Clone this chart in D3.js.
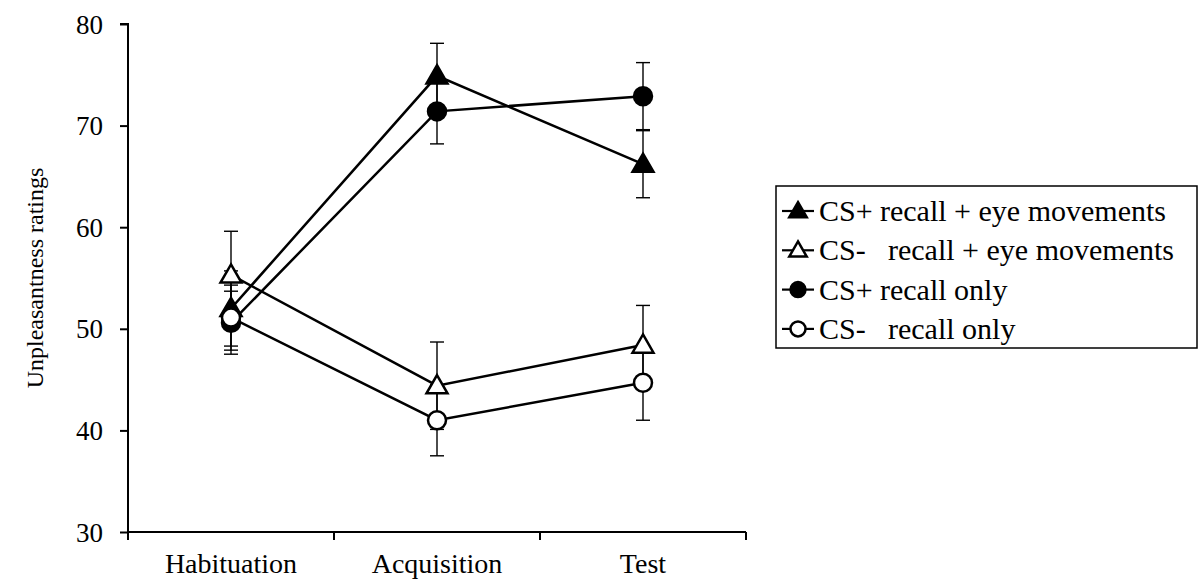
<!DOCTYPE html>
<html>
<head>
<meta charset="utf-8">
<script src="https://cdn.jsdelivr.net/npm/d3@7"></script>
<style>
  html, body { margin: 0; padding: 0; background: #fff; }
  svg { display: block; font-family: "Liberation Serif", "Times New Roman", serif; }
</style>
</head>
<body>
<svg id="chart" width="1198" height="579"></svg>
<script>
// Phases of the experiment
const phases = ["Habituation", "Acquisition", "Test"];
const yTicks = [30, 40, 50, 60, 70, 80];

// Mean unpleasantness ratings and standard errors per condition
const csPlusEyeMean = [52.0, 74.9, 66.2];
const csPlusEyeSE = [3.7, 3.2, 3.3];
const csMinusEyeMean = [55.3, 44.4, 48.4];
const csMinusEyeSE = [4.3, 4.3, 3.9];
const csPlusRecallMean = [50.6, 71.4, 72.9];
const csPlusRecallSE = [3.1, 3.2, 3.3];
const csMinusRecallMean = [51.1, 41.0, 44.7];
const csMinusRecallSE = [3.2, 3.5, 3.7];

const seriesLabels = [
  ["CS+", "recall + eye movements"],
  ["CS-", "recall + eye movements"],
  ["CS+", "recall only"],
  ["CS-", "recall only"]
];

const series = [
  { mean: csPlusEyeMean, se: csPlusEyeSE, shape: "triangle", filled: true },
  { mean: csMinusEyeMean, se: csMinusEyeSE, shape: "triangle", filled: false },
  { mean: csPlusRecallMean, se: csPlusRecallSE, shape: "circle", filled: true },
  { mean: csMinusRecallMean, se: csMinusRecallSE, shape: "circle", filled: false }
].map((s, i) => ({ ...s, label: seriesLabels[i] }));

const svg = d3.select("#chart");
const left = 128;

const x = d3.scaleBand().domain(phases).range([left, 746]).paddingInner(0).paddingOuter(0);
const y = d3.scaleLinear().domain([30, 80]).range([532, 24]);

// Y axis
const yAxis = svg.append("g")
  .attr("transform", `translate(${left},0)`)
  .call(d3.axisLeft(y).tickValues(yTicks).tickSize(8).tickPadding(17).tickFormat(d3.format("d")));
yAxis.select(".domain").attr("stroke-width", 2).attr("d", `M-8,${y(80)}H0V${y(30)}`);
yAxis.selectAll(".tick line").attr("stroke-width", 2);
yAxis.selectAll(".tick text").attr("font-size", 27).attr("fill", "#000")
  .attr("font-family", "Liberation Serif").attr("dy", "0.34em");

// X axis with tick marks at band boundaries
const xAxisG = svg.append("g").attr("transform", `translate(0,${y(30)})`);
xAxisG.append("line")
  .attr("x1", left).attr("x2", x.range()[1])
  .attr("stroke", "#000").attr("stroke-width", 2);
const boundaries = phases.map(p => x(p)).concat([x.range()[1]]);
xAxisG.selectAll("line.tick").data(boundaries).join("line")
  .attr("class", "tick")
  .attr("x1", d => d).attr("x2", d => d)
  .attr("y1", 0).attr("y2", 8)
  .attr("stroke", "#000").attr("stroke-width", 2);
xAxisG.selectAll("text").data(phases).join("text")
  .attr("x", d => x(d) + x.bandwidth() / 2)
  .attr("y", 41)
  .attr("text-anchor", "middle")
  .attr("font-size", 28)
  .text(d => d);

// Y axis title
svg.append("text")
  .attr("transform", `translate(43,${(y(30) + y(80)) / 2}) rotate(-90)`)
  .attr("text-anchor", "middle")
  .attr("font-size", 24)
  .text("Unpleasantness ratings");

const cx = i => x(phases[i]) + x.bandwidth() / 2;

function drawMarker(g, shape, filled, px, py, size) {
  if (shape === "triangle") {
    g.append("path")
      .attr("d", d3.symbol().type(d3.symbolTriangle).size(size * size * 2.35)())
      .attr("transform", `translate(${px},${py + size * 0.17})`)
      .attr("fill", filled ? "#000" : "#fff")
      .attr("stroke", "#000").attr("stroke-width", 2.5);
  } else {
    g.append("circle")
      .attr("cx", px).attr("cy", py).attr("r", size)
      .attr("fill", filled ? "#000" : "#fff")
      .attr("stroke", "#000").attr("stroke-width", 2.5);
  }
}

// Error bars
const errG = svg.append("g");
series.forEach(s => {
  s.mean.forEach((m, i) => {
    const px = cx(i);
    const y1 = y(m - s.se[i]), y2 = y(m + s.se[i]);
    errG.append("line").attr("x1", px).attr("x2", px).attr("y1", y1).attr("y2", y2)
      .attr("stroke", "#000").attr("stroke-width", 1.4);
    [y1, y2].forEach(yy => errG.append("line")
      .attr("x1", px - 7).attr("x2", px + 7).attr("y1", yy).attr("y2", yy)
      .attr("stroke", "#000").attr("stroke-width", 1.4));
  });
});

// Series lines
const line = d3.line().x((d, i) => cx(i)).y(d => y(d));
const lineG = svg.append("g");
series.forEach(s => {
  lineG.append("path").attr("d", line(s.mean))
    .attr("fill", "none").attr("stroke", "#000").attr("stroke-width", 2.5);
});

// Markers
const markG = svg.append("g");
series.forEach(s => {
  s.mean.forEach((m, i) => drawMarker(markG, s.shape, s.filled, cx(i), y(m), 9));
});

// Legend
const legend = svg.append("g");
legend.append("rect")
  .attr("x", 776).attr("y", 186).attr("width", 421).attr("height", 162)
  .attr("fill", "#fff").attr("stroke", "#000").attr("stroke-width", 1.5);
series.forEach((s, i) => {
  const ly = 211 + i * 39.3;
  legend.append("line").attr("x1", 782).attr("x2", 814).attr("y1", ly).attr("y2", ly)
    .attr("stroke", "#000").attr("stroke-width", 2.2);
  drawMarker(legend, s.shape, s.filled, 798, ly, 7.5);
  legend.append("text").attr("x", 819).attr("y", ly + 10).attr("font-size", 30).text(s.label[0]);
  legend.append("text").attr("x", i % 2 === 0 ? 880 : 888).attr("y", ly + 10)
    .attr("font-size", 30).text(s.label[1]);
});
</script>
</body>
</html>
